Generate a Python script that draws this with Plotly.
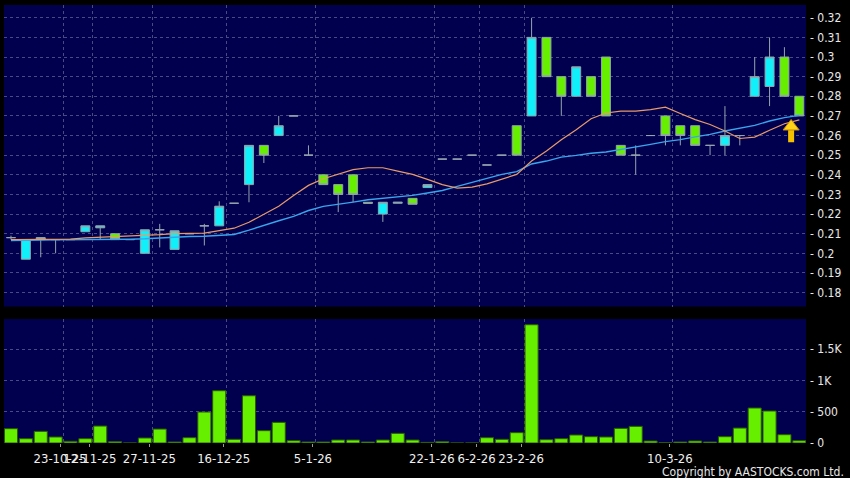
import plotly.graph_objects as go

# ---------------- data ----------------
opens  = [0.208, 0.197, 0.207, 0.207, 0.207, 0.211, 0.213, 0.210, 0.207, 0.200,
          0.212, 0.202, 0.210, 0.214, 0.214, 0.2255, 0.235, 0.255, 0.260, 0.270,
          0.250, 0.240, 0.235, 0.240, 0.226, 0.220, 0.2255, 0.228, 0.2335, 0.248,
          0.248, 0.250, 0.245, 0.250, 0.265, 0.270, 0.310, 0.290, 0.280, 0.290,
          0.300, 0.255, 0.250, 0.260, 0.270, 0.265, 0.265, 0.255, 0.255, 0.260,
          0.280, 0.285, 0.300, 0.280]
highs  = [0.209, 0.207, 0.208, 0.207, 0.207, 0.214, 0.214, 0.210, 0.207, 0.212,
          0.215, 0.2115, 0.210, 0.215, 0.2265, 0.2255, 0.255, 0.255, 0.270, 0.270,
          0.255, 0.240, 0.235, 0.240, 0.226, 0.226, 0.226, 0.228, 0.235, 0.248,
          0.248, 0.250, 0.245, 0.250, 0.265, 0.320, 0.310, 0.290, 0.295, 0.290,
          0.300, 0.255, 0.255, 0.260, 0.270, 0.265, 0.265, 0.255, 0.275, 0.260,
          0.300, 0.310, 0.305, 0.280]
lows   = [0.207, 0.197, 0.198, 0.200, 0.207, 0.211, 0.207, 0.207, 0.207, 0.200,
          0.203, 0.202, 0.210, 0.204, 0.214, 0.2255, 0.226, 0.246, 0.260, 0.270,
          0.250, 0.235, 0.221, 0.226, 0.2255, 0.216, 0.2255, 0.225, 0.2335, 0.248,
          0.248, 0.250, 0.245, 0.250, 0.250, 0.270, 0.290, 0.270, 0.280, 0.280,
          0.270, 0.250, 0.240, 0.260, 0.255, 0.255, 0.255, 0.250, 0.250, 0.255,
          0.280, 0.275, 0.280, 0.270]
closes = [0.208, 0.207, 0.208, 0.207, 0.207, 0.214, 0.214, 0.207, 0.207, 0.212,
          0.212, 0.2115, 0.210, 0.214, 0.224, 0.2255, 0.255, 0.250, 0.265, 0.270,
          0.250, 0.235, 0.230, 0.230, 0.2255, 0.226, 0.226, 0.225, 0.235, 0.248,
          0.248, 0.250, 0.245, 0.250, 0.250, 0.310, 0.290, 0.280, 0.295, 0.280,
          0.270, 0.250, 0.250, 0.260, 0.260, 0.260, 0.255, 0.255, 0.260, 0.260,
          0.290, 0.300, 0.280, 0.270]

ma_short = [0.2070, 0.2070, 0.2072, 0.2072, 0.2072, 0.2079, 0.2082, 0.2084, 0.2086, 0.2090,
            0.2095, 0.2100, 0.2100, 0.2103, 0.2116, 0.2128, 0.2158, 0.2198, 0.2240, 0.2295,
            0.2346, 0.2380, 0.2405, 0.2426, 0.2436, 0.2436, 0.2419, 0.2402, 0.2377, 0.2350,
            0.2332, 0.2337, 0.2354, 0.2376, 0.2402, 0.2470, 0.2521, 0.2579, 0.2630, 0.2686,
            0.2715, 0.2724, 0.2724, 0.2732, 0.2745, 0.2712, 0.2681, 0.2656, 0.2623, 0.2585,
            0.2592, 0.2627, 0.2660, 0.2680]
ma_long  = [0.2065, 0.2065, 0.2067, 0.2069, 0.2069, 0.2069, 0.2072, 0.2072, 0.2072, 0.2074,
            0.2079, 0.2082, 0.2086, 0.2087, 0.2092, 0.2096, 0.2118, 0.2143, 0.2166, 0.2188,
            0.2218, 0.2239, 0.2249, 0.2261, 0.2273, 0.2280, 0.2290, 0.2295, 0.2307, 0.2320,
            0.2341, 0.2361, 0.2383, 0.2402, 0.2416, 0.2455, 0.2470, 0.2490, 0.2499, 0.2510,
            0.2516, 0.2528, 0.2541, 0.2555, 0.2569, 0.2579, 0.2593, 0.2606, 0.2623, 0.2637,
            0.2652, 0.2674, 0.2691, 0.2703]

volumes = [229, 69, 186, 96, 27, 69, 271, 21, 0, 80,
           223, 16, 85, 495, 835, 59, 755, 197, 330, 37,
           16, 16, 48, 48, 16, 48, 154, 48, 10, 21,
           0, 0, 85, 59, 165, 1889, 53, 69, 128, 101,
           96, 234, 266, 32, 5, 16, 32, 16, 101, 239,
           559, 511, 133, 37]

date_labels = ["23-10-25", "12-11-25", "27-11-25", "16-12-25", "5-1-26",
               "22-1-26", "6-2-26", "23-2-26", "10-3-26"]
date_grid_pos = [3.5, 5.5, 9.5, 14.5, 20.5, 28.5, 31.5, 34.5, 44.5]

price_ticks = [0.18, 0.19, 0.20, 0.21, 0.22, 0.23, 0.24, 0.25, 0.26, 0.27,
               0.28, 0.29, 0.30, 0.31, 0.32]
price_tick_text = ["0.18", "0.19", "0.2", "0.21", "0.22", "0.23", "0.24", "0.25",
                   "0.26", "0.27", "0.28", "0.29", "0.3", "0.31", "0.32"]
vol_ticks = [0, 500, 1000, 1500]
vol_tick_text = ["0", "500", "1K", "1.5K"]

arrow_x = 52.45
arrow_head_y = 0.2646
arrow_stem_y = [0.2566, 0.2628]

copyright_text = "Copyright by AASTOCKS.com Ltd."

# ---------------- figure ----------------
idx = list(range(len(opens)))
FONT = "DejaVu Sans Condensed, DejaVu Sans, sans-serif"
GRID = "#4a4a82"
GDASH = "3px,3px"
X_RANGE = [-0.47, 53.45]

fig = go.Figure()

fig.add_trace(go.Candlestick(
    x=idx, open=opens, high=highs, low=lows, close=closes,
    increasing=dict(fillcolor="#10f0fa", line=dict(color="#95a3ad", width=1)),
    decreasing=dict(fillcolor="#66f000", line=dict(color="#95a3ad", width=1)),
    whiskerwidth=0, xaxis="x", yaxis="y", hoverinfo="skip"))

fig.add_trace(go.Scatter(x=idx, y=ma_long, mode="lines",
                         line=dict(color="#3aa4ec", width=1.4), xaxis="x", yaxis="y"))
fig.add_trace(go.Scatter(x=idx, y=ma_short, mode="lines",
                         line=dict(color="#e89a6a", width=1.2), xaxis="x", yaxis="y"))

# yellow arrow
fig.add_trace(go.Scatter(x=[arrow_x, arrow_x], y=arrow_stem_y, mode="lines",
                         line=dict(color="#f5c000", width=6), xaxis="x", yaxis="y"))
fig.add_trace(go.Scatter(x=[arrow_x], y=[arrow_head_y], mode="markers",
                         marker=dict(symbol="triangle-up", size=14, color="#ffd21a",
                                     line=dict(color="#c98a00", width=1)),
                         xaxis="x", yaxis="y"))

fig.add_trace(go.Bar(x=idx, y=volumes, marker=dict(color="#66f000",
                     line=dict(color="#2b5a00", width=1)),
                     xaxis="x2", yaxis="y2", hoverinfo="skip"))

# invisible point so the label axis renders
fig.add_trace(go.Scatter(x=[0], y=[0], mode="markers", marker=dict(opacity=0),
                         xaxis="x3", yaxis="y2", hoverinfo="skip"))

top_dom = [0.3116, 1.0]
bot_dom = [0.0, 0.283]

fig.update_layout(
    width=850, height=478,
    margin=dict(l=4, r=44, t=5, b=35, autoexpand=False),
    paper_bgcolor="#000000", plot_bgcolor="#00004e",
    showlegend=False, boxgap=0.14, bargap=0.12,
    font=dict(family=FONT, color="#ffffff", size=12),
    xaxis=dict(domain=[0, 1], anchor="y", range=X_RANGE, rangeslider=dict(visible=False),
               tickvals=date_grid_pos, showticklabels=False, ticks="",
               showgrid=True, gridcolor=GRID, griddash=GDASH, gridwidth=1,
               zeroline=False, showline=False, automargin=False),
    yaxis=dict(domain=top_dom, anchor="x", side="right", range=[0.1729, 0.3265],
               tickvals=price_ticks, ticktext=["- " + t for t in price_tick_text],
               showgrid=True, gridcolor=GRID, griddash=GDASH, gridwidth=1,
               zeroline=False, showline=False, ticks="", ticklabelstandoff=3,
               automargin=False, tickfont=dict(size=12, color="#e8e8e8")),
    xaxis2=dict(domain=[0, 1], anchor="y2", range=X_RANGE,
                tickvals=date_grid_pos, showticklabels=False, ticks="",
                showgrid=True, gridcolor=GRID, griddash=GDASH, gridwidth=1,
                zeroline=False, showline=False, automargin=False),
    xaxis3=dict(overlaying="x2", anchor="y2", side="bottom", range=X_RANGE,
                tickvals=[p - 0.2 for p in date_grid_pos], ticktext=date_labels,
                ticks="outside", ticklen=3, tickcolor="#9a9a9a", showgrid=False,
                zeroline=False, showline=False, tickangle=0, automargin=False,
                tickfont=dict(size=13, color="#f0f0f0")),
    yaxis2=dict(domain=bot_dom, anchor="x2", side="right", range=[0, 1980],
                tickvals=vol_ticks, ticktext=["- " + t for t in vol_tick_text],
                showgrid=True, gridcolor=GRID, griddash=GDASH, gridwidth=1,
                zeroline=False, showline=False, ticks="", ticklabelstandoff=3,
                automargin=False, tickfont=dict(size=12, color="#e8e8e8")),
    annotations=[dict(text=copyright_text, xref="paper", yref="paper",
                      x=1.0495, y=-0.0655, xanchor="right", yanchor="middle",
                      showarrow=False, font=dict(size=12, color="#e8e8e8"))],
)

fig.write_html("out.html", config={"displayModeBar": False},
               post_script="document.body.style.margin='0';"
                           "document.body.style.background='#000';")
